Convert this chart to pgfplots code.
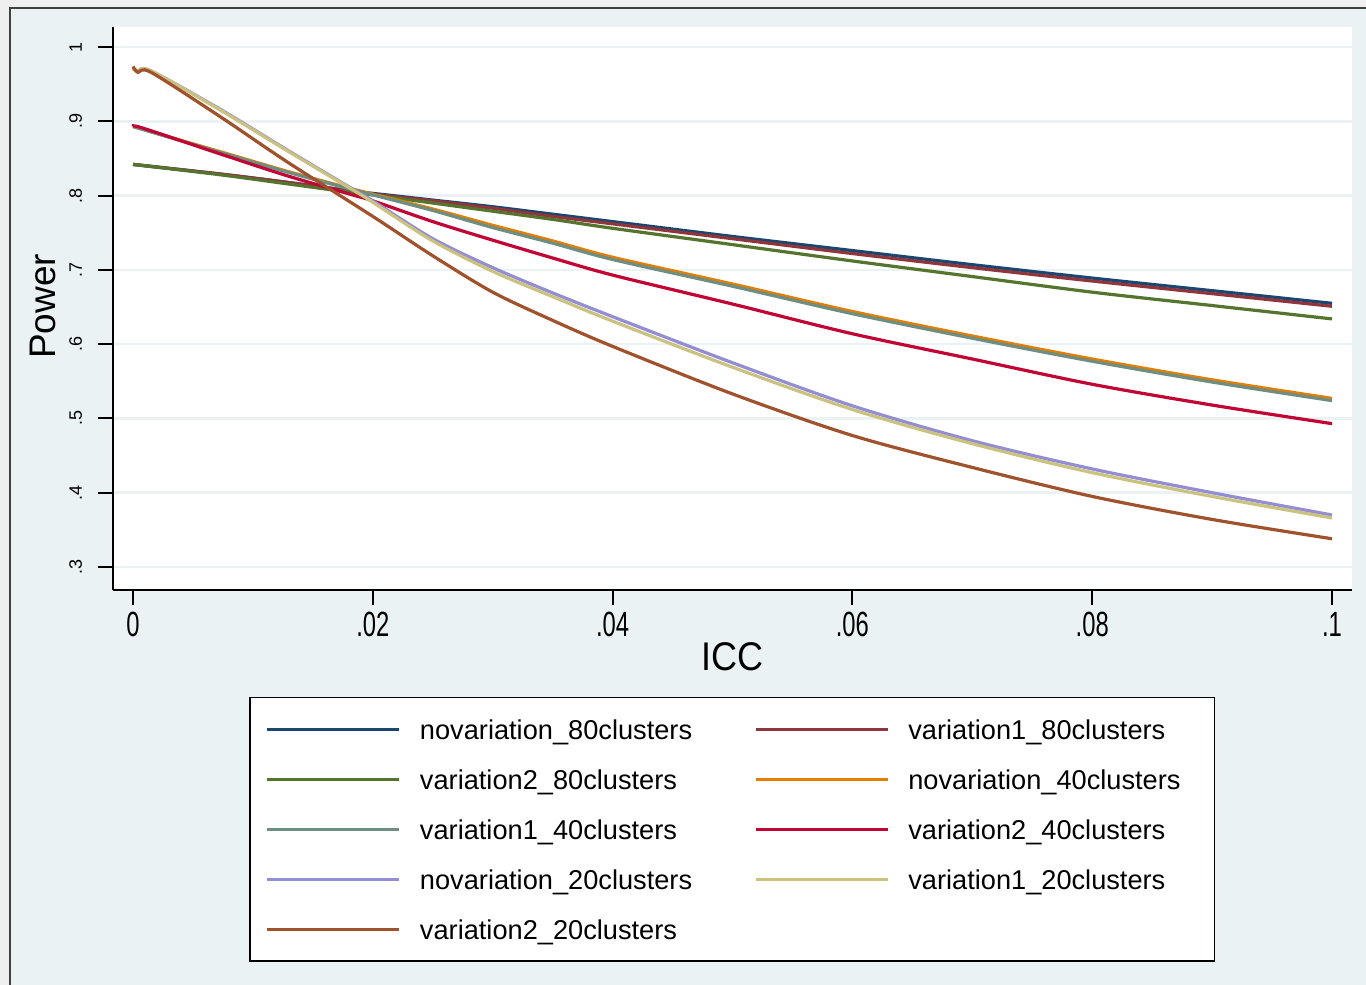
\documentclass[border=0pt]{standalone}
\usepackage{fontspec}
\setmainfont{Liberation Sans}
\newfontfamily\condfont[FakeStretch=0.68]{Liberation Sans}
\newfontfamily\labfont[FakeStretch=0.9]{Liberation Sans}
\usepackage{pgfplots}
\pgfplotsset{compat=1.18}

\definecolor{bgblue}{HTML}{EAF2F3}
\definecolor{framegray}{HTML}{EFEFEF}
\definecolor{gridblue}{HTML}{EAF2F3}
\definecolor{snavy}{HTML}{1A476F}
\definecolor{smaroon}{HTML}{90353B}
\definecolor{sgreen}{HTML}{55752F}
\definecolor{sorange}{HTML}{E37E00}
\definecolor{steal}{HTML}{6E8E84}
\definecolor{scran}{HTML}{C10534}
\definecolor{slav}{HTML}{938DD2}
\definecolor{skhaki}{HTML}{CAC27E}
\definecolor{ssienna}{HTML}{A0522D}

\begin{document}
\begin{tikzpicture}
\useasboundingbox (0,0) rectangle (683pt,-492.5pt);
\fill[framegray] (0,0) rectangle (683pt,-492.5pt);
\fill[bgblue] (5pt,-4pt) rectangle (683pt,-492.5pt);
\draw[black!75, line width=0.6pt] (5pt,-492.5pt) -- (5pt,-4pt) -- (683pt,-4pt);
\begin{axis}[
  at={(56.5pt,-13.5pt)}, anchor=north west,
  scale only axis, width=619.5pt, height=281.5pt,
  xmin=-0.00167, xmax=0.10167, ymin=0.269, ymax=1.027,
  axis lines=left, axis line style={-, line width=1pt},
  axis background/.style={fill=white},
  tick align=outside, major tick length=7.5pt,
  tick style={black, line width=1pt},
  xtick={0,0.02,0.04,0.06,0.08,0.1},
  xticklabels={0,.02,.04,.06,.08,.1},
  ytick={0.3,0.4,0.5,0.6,0.7,0.8,0.9,1},
  yticklabels={.3,.4,.5,.6,.7,.8,.9,1},
  ymajorgrids, major grid style={gridblue, line width=1.3pt},
  xticklabel style={font=\condfont\fontsize{17.5}{20}\selectfont},
  yticklabel style={xshift=-4.5pt, rotate=90, anchor=south, font=\fontsize{9}{10}\selectfont},
  xlabel={ICC}, ylabel={Power},
  xlabel style={at={(axis description cs:0.5,-0.119)}, anchor=center, font=\labfont\fontsize{20}{22}\selectfont},
  ylabel style={at={(axis description cs:-0.0565,0.504)}, anchor=center, rotate=0, font=\fontsize{18.5}{21}\selectfont},
  legend columns=2,
  legend cell align=left,
  legend image code/.code={\draw[#1, line width=1.6pt] (0pt,0pt) -- (66pt,0pt);},
  legend style={at={(axis description cs:0.1098,-0.190)}, anchor=north west,
    draw=black, line width=0.75pt, fill=white, inner xsep=8pt, inner ysep=11pt,
    row sep=15.3pt, font=\fontsize{13.6}{16}\selectfont,
    nodes={inner sep=0pt, text height=9.7pt, text depth=0pt},
    /tikz/every odd column/.append style={column sep=9.5pt},
    /tikz/every even column/.append style={column sep=31pt},
    /tikz/column 4/.style={nodes={text width=145pt}}},
  every axis plot/.append style={line width=1.6pt, smooth, tension=0.5},
]
\addplot[snavy] coordinates {
 (0,0.842) (0.0073,0.829) (0.0128,0.818) (0.0183,0.806) (0.02,0.803) (0.025,0.794) (0.03,0.785) (0.035,0.775)
 (0.04,0.765) (0.05,0.745) (0.06,0.726) (0.07,0.707) (0.08,0.689) (0.09,0.672) (0.1,0.655)};
\addlegendentry{novariation\_80clusters}
\addplot[smaroon] coordinates {
 (0,0.842) (0.0073,0.829) (0.0128,0.818) (0.0183,0.806) (0.02,0.802) (0.025,0.793) (0.03,0.783) (0.035,0.772)
 (0.04,0.762) (0.05,0.742) (0.06,0.722) (0.07,0.703) (0.08,0.685) (0.09,0.668) (0.1,0.651)};
\addlegendentry{variation1\_80clusters}
\addplot[sgreen] coordinates {
 (0,0.842) (0.0073,0.828) (0.0128,0.816) (0.0183,0.804) (0.02,0.801) (0.025,0.790) (0.03,0.779) (0.035,0.768)
 (0.04,0.756) (0.05,0.734) (0.06,0.712) (0.07,0.691) (0.08,0.670) (0.09,0.652) (0.1,0.634)};
\addlegendentry{variation2\_80clusters}
\addplot[sorange] coordinates {
 (0,0.893) (0.0073,0.859) (0.0128,0.833) (0.0183,0.809) (0.02,0.802) (0.025,0.782) (0.03,0.760) (0.035,0.739)
 (0.04,0.717) (0.05,0.681) (0.06,0.644) (0.07,0.611) (0.08,0.580) (0.09,0.552) (0.1,0.527)};
\addlegendentry{novariation\_40clusters}
\addplot[steal] coordinates {
 (0,0.893) (0.0073,0.858) (0.0128,0.832) (0.0183,0.808) (0.02,0.801) (0.025,0.780) (0.03,0.757) (0.035,0.736)
 (0.04,0.714) (0.05,0.678) (0.06,0.641) (0.07,0.608) (0.08,0.577) (0.09,0.549) (0.1,0.524)};
\addlegendentry{variation1\_40clusters}
\addplot[scran] coordinates {
 (0,0.893) (0.0008,0.891) (0.0073,0.856) (0.0128,0.827) (0.0183,0.801) (0.02,0.793) (0.025,0.765) (0.03,0.740)
 (0.035,0.716) (0.04,0.693) (0.05,0.654) (0.06,0.614) (0.07,0.580) (0.08,0.546) (0.09,0.518) (0.1,0.493)};
\addlegendentry{variation2\_40clusters}
\addplot[slav] coordinates {
 (0,0.971) (0.0004,0.968) (0.0015,0.968) (0.0073,0.916) (0.0128,0.862) (0.0183,0.809) (0.02,0.793)
 (0.025,0.742) (0.03,0.703) (0.035,0.669) (0.04,0.637) (0.05,0.575) (0.06,0.517) (0.07,0.470)
 (0.08,0.432) (0.09,0.400) (0.1,0.370)};
\addlegendentry{novariation\_20clusters}
\addplot[skhaki] coordinates {
 (0,0.971) (0.0004,0.968) (0.0015,0.968) (0.0073,0.915) (0.0128,0.861) (0.0183,0.808) (0.02,0.791)
 (0.025,0.739) (0.03,0.698) (0.035,0.664) (0.04,0.631) (0.05,0.569) (0.06,0.512) (0.07,0.466)
 (0.08,0.427) (0.09,0.395) (0.1,0.366)};
\addlegendentry{variation1\_20clusters}
\addplot[ssienna] coordinates {
 (0,0.974) (0.0004,0.966) (0.0015,0.966) (0.0073,0.906) (0.0128,0.846) (0.02,0.772)
 (0.025,0.719) (0.03,0.670) (0.035,0.632) (0.04,0.597) (0.05,0.533) (0.06,0.477) (0.07,0.434)
 (0.08,0.395) (0.09,0.364) (0.1,0.338)};
\addlegendentry{variation2\_20clusters}
\end{axis}
\end{tikzpicture}
\end{document}
